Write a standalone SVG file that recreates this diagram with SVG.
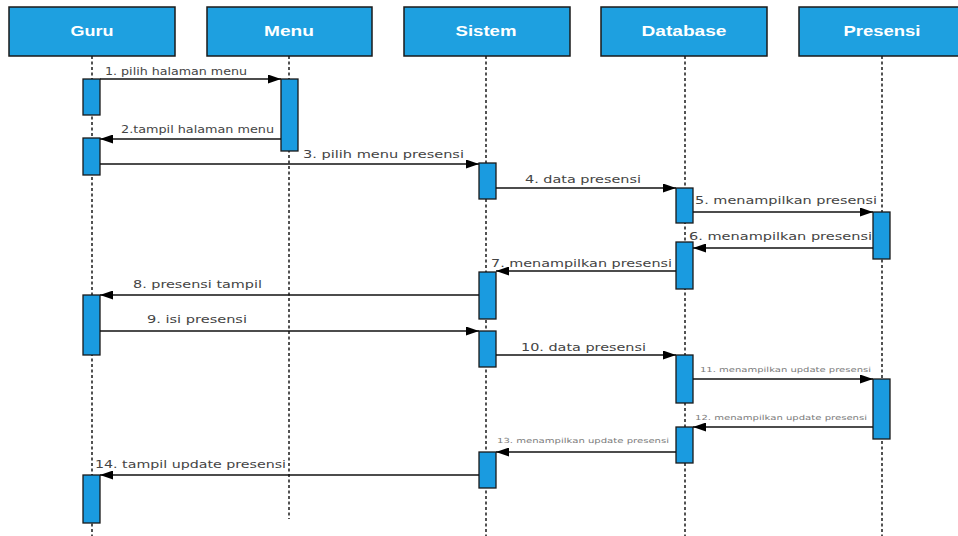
<svg xmlns="http://www.w3.org/2000/svg" width="958" height="536" viewBox="0 0 958 536">
  <style>
    .head { fill: #1ea0e0; stroke: #1a1a1a; stroke-width: 1.5; }
    .head-text { font-family: "Liberation Sans", Arial, sans-serif; font-weight: bold; font-size: 15px; fill: #ffffff; }
    .life { stroke: #1a1a1a; stroke-width: 1.5; stroke-dasharray: 3 2.5; fill: none; }
    .act { fill: #1a9be0; stroke: #1a1a1a; stroke-width: 1.3; }
    .msg { stroke: #111111; stroke-width: 1.3; fill: none; marker-end: url(#arrow); }
    .lbl { font-family: "DejaVu Sans", Verdana, sans-serif; font-size: 10.5px; fill: #444444; }
    .lbl-s { font-family: "DejaVu Sans", Verdana, sans-serif; font-size: 7px; fill: #7a7a7a; }
  </style>
  <defs>
    <marker id="arrow" viewBox="0 0 13 9" refX="13" refY="4.5" markerWidth="13" markerHeight="9" markerUnits="userSpaceOnUse" orient="auto">
      <path d="M0,0 L13,4.5 L0,9 Z" fill="#000000"/>
    </marker>
  </defs>
  <rect width="958" height="536" fill="#ffffff"/>

  <!-- lifelines -->
  <g id="lifelines">
    <line class="life" x1="92" y1="56" x2="92" y2="536"/>
    <line class="life" x1="289" y1="56" x2="289" y2="519"/>
    <line class="life" x1="486" y1="56" x2="486" y2="536"/>
    <line class="life" x1="685" y1="56" x2="685" y2="536"/>
    <line class="life" x1="882" y1="56" x2="882" y2="536"/>
  </g>

  <!-- participants -->
  <g id="guru">
    <rect class="head" x="9" y="7" width="166" height="49"/>
    <text class="head-text" x="92" y="36" text-anchor="middle" textLength="43" lengthAdjust="spacingAndGlyphs">Guru</text>
    <rect class="act" x="83" y="79" width="17" height="36"/>
    <rect class="act" x="83" y="138" width="17" height="37"/>
    <rect class="act" x="83" y="295" width="17" height="60"/>
    <rect class="act" x="83" y="475" width="17" height="48"/>
  </g>
  <g id="menu">
    <rect class="head" x="207" y="7" width="165" height="49"/>
    <text class="head-text" x="289" y="36" text-anchor="middle" textLength="50" lengthAdjust="spacingAndGlyphs">Menu</text>
    <rect class="act" x="281" y="79" width="17" height="72"/>
  </g>
  <g id="sistem">
    <rect class="head" x="404" y="7" width="166" height="49"/>
    <text class="head-text" x="486" y="36" text-anchor="middle" textLength="61" lengthAdjust="spacingAndGlyphs">Sistem</text>
    <rect class="act" x="479" y="163" width="17" height="36"/>
    <rect class="act" x="479" y="272" width="17" height="47"/>
    <rect class="act" x="479" y="331" width="17" height="36"/>
    <rect class="act" x="479" y="452" width="17" height="36"/>
  </g>
  <g id="database">
    <rect class="head" x="601" y="7" width="166" height="49"/>
    <text class="head-text" x="684" y="36" text-anchor="middle" textLength="85" lengthAdjust="spacingAndGlyphs">Database</text>
    <rect class="act" x="676" y="188" width="17" height="35"/>
    <rect class="act" x="676" y="242" width="17" height="47"/>
    <rect class="act" x="676" y="355" width="17" height="48"/>
    <rect class="act" x="676" y="427" width="17" height="36"/>
  </g>
  <g id="presensi">
    <rect class="head" x="799" y="7" width="166" height="49"/>
    <text class="head-text" x="882" y="36" text-anchor="middle" textLength="77" lengthAdjust="spacingAndGlyphs">Presensi</text>
    <rect class="act" x="873" y="212" width="17" height="47"/>
    <rect class="act" x="873" y="379" width="17" height="60"/>
  </g>

  <!-- messages -->
  <g id="connectors">
    <line class="msg" x1="100" y1="79" x2="281" y2="79"/>
    <line class="msg" x1="281" y1="139" x2="100" y2="139"/>
    <line class="msg" x1="100" y1="164" x2="479" y2="164"/>
    <line class="msg" x1="496" y1="188" x2="676" y2="188"/>
    <line class="msg" x1="693" y1="212" x2="873" y2="212"/>
    <line class="msg" x1="873" y1="248" x2="693" y2="248"/>
    <line class="msg" x1="676" y1="271" x2="496" y2="271"/>
    <line class="msg" x1="479" y1="295" x2="100" y2="295"/>
    <line class="msg" x1="100" y1="331" x2="479" y2="331"/>
    <line class="msg" x1="496" y1="355" x2="676" y2="355"/>
    <line class="msg" x1="693" y1="379" x2="873" y2="379"/>
    <line class="msg" x1="873" y1="427" x2="693" y2="427"/>
    <line class="msg" x1="676" y1="452" x2="496" y2="452"/>
    <line class="msg" x1="479" y1="475" x2="100" y2="475"/>
  </g>

  <!-- message labels -->
  <g id="labels">
    <text class="lbl" x="105" y="75" textLength="142" lengthAdjust="spacingAndGlyphs">1. pilih halaman menu</text>
    <text class="lbl" x="121" y="133" textLength="153" lengthAdjust="spacingAndGlyphs">2.tampil halaman menu</text>
    <text class="lbl" x="303" y="158" textLength="161" lengthAdjust="spacingAndGlyphs">3. pilih menu presensi</text>
    <text class="lbl" x="525" y="183" textLength="116" lengthAdjust="spacingAndGlyphs">4. data presensi</text>
    <text class="lbl" x="695" y="204" textLength="182" lengthAdjust="spacingAndGlyphs">5. menampilkan presensi</text>
    <text class="lbl" x="689" y="240" textLength="183" lengthAdjust="spacingAndGlyphs">6. menampilkan presensi</text>
    <text class="lbl" x="491" y="267" textLength="181" lengthAdjust="spacingAndGlyphs">7. menampilkan presensi</text>
    <text class="lbl" x="133" y="288" textLength="129" lengthAdjust="spacingAndGlyphs">8. presensi tampil</text>
    <text class="lbl" x="147" y="323" textLength="100" lengthAdjust="spacingAndGlyphs">9. isi presensi</text>
    <text class="lbl" x="521" y="351" textLength="125" lengthAdjust="spacingAndGlyphs">10. data presensi</text>
    <text class="lbl-s" x="700" y="372" textLength="171" lengthAdjust="spacingAndGlyphs">11. menampilkan update presensi</text>
    <text class="lbl-s" x="695" y="420" textLength="172" lengthAdjust="spacingAndGlyphs">12. menampilkan update presensi</text>
    <text class="lbl-s" x="497" y="443" textLength="172" lengthAdjust="spacingAndGlyphs">13. menampilkan update presensi</text>
    <text class="lbl" x="95" y="468" textLength="191" lengthAdjust="spacingAndGlyphs">14. tampil update presensi</text>
  </g>
</svg>
